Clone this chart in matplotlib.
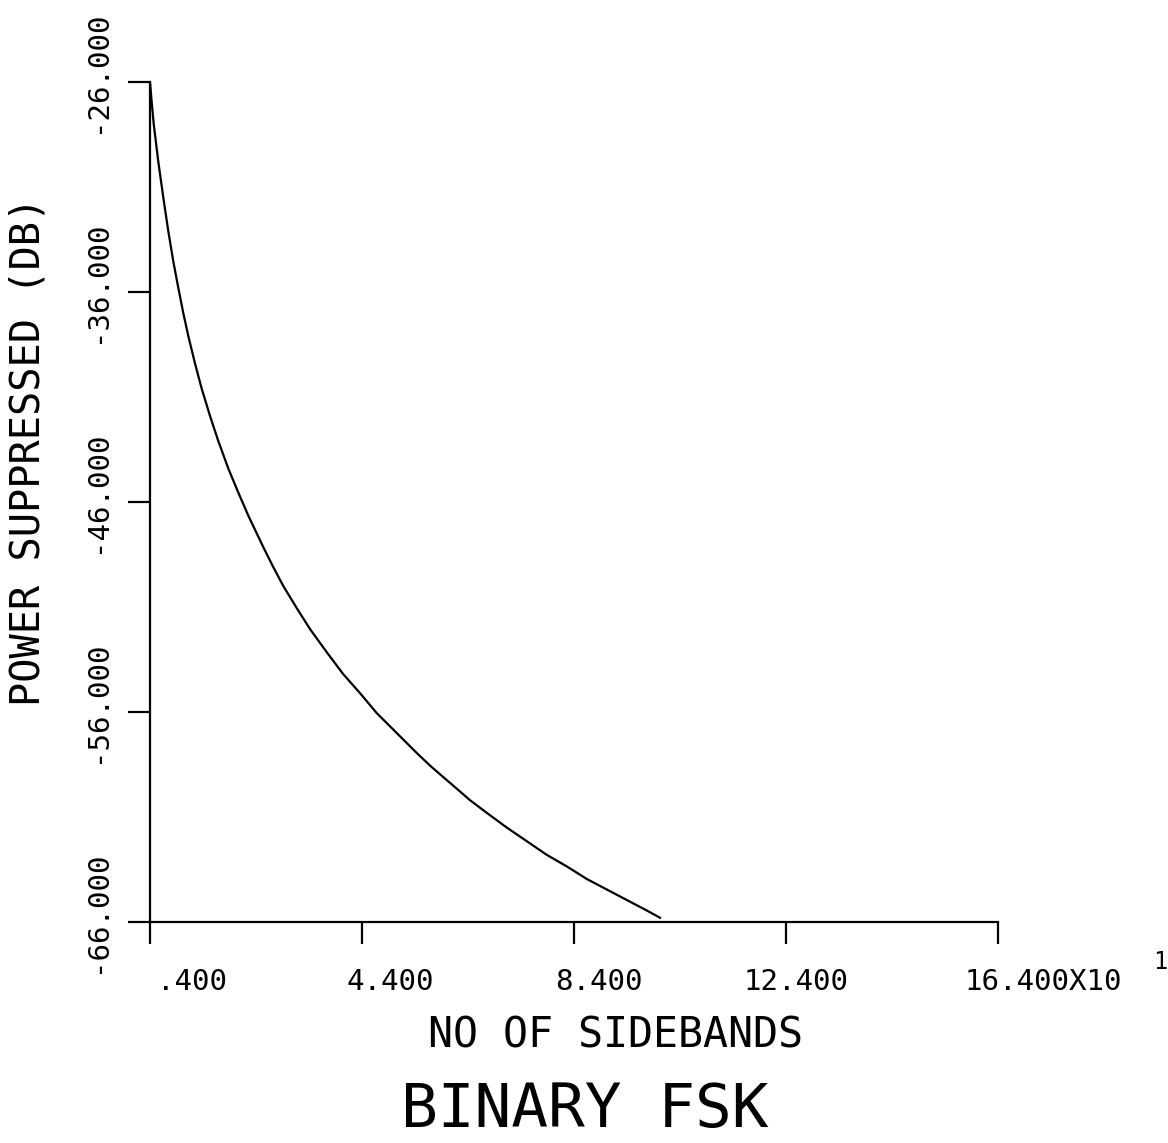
import matplotlib
matplotlib.use('Agg')
import matplotlib.pyplot as plt

# Values (x in units of 10 sidebands)
sidebands = [0.400, 0.430, 0.470, 0.557, 0.651, 0.745, 0.840, 0.934, 1.028, 1.123,
             1.249, 1.375, 1.532, 1.689, 1.877, 2.066, 2.255, 2.538, 2.726, 2.915,
             3.168, 3.419, 3.734, 4.047, 4.362, 4.677, 5.055, 5.432, 5.683, 5.934,
             6.187, 6.438, 6.753, 7.130, 7.508, 7.885, 8.262, 8.640, 9.017, 9.394,
             9.772, 10.023]
power_db = [-26.00, -26.90, -28.00, -29.80, -31.50, -33.10, -34.55, -35.80, -37.00, -38.10,
            -39.40, -40.60, -41.90, -43.10, -44.40, -45.55, -46.65, -48.15, -49.10, -50.00,
            -51.05, -52.05, -53.15, -54.20, -55.10, -56.05, -57.00, -57.95, -58.55, -59.10,
            -59.65, -60.20, -60.80, -61.50, -62.15, -62.80, -63.35, -63.95, -64.45, -64.95,
            -65.45, -65.80]

x_ticks = [0.4, 4.4, 8.4, 12.4, 16.4]
x_tick_labels = ['.400', '4.400', '8.400', '12.400', '16.400X10']
y_ticks = [-26, -36, -46, -56, -66]
y_tick_labels = ['-26.000', '-36.000', '-46.000', '-56.000', '-66.000']

FONT = 'DejaVu Sans Mono'

fig = plt.figure(figsize=(11.68, 11.43), dpi=100)
ax = fig.add_axes([150 / 1168, 1 - 922 / 1143, 848 / 1168, 840 / 1143])

ax.plot(sidebands, power_db, color='black', linewidth=1.6, solid_joinstyle='round')

ax.set_xlim(0.4, 16.4)
ax.set_ylim(-66, -26)
ax.spines['top'].set_visible(False)
ax.spines['right'].set_visible(False)
for s in ['left', 'bottom']:
    ax.spines[s].set_linewidth(1.6)

ax.set_xticks(x_ticks)
ax.set_yticks(y_ticks)
ax.set_xticklabels([])
ax.set_yticklabels([])
ax.tick_params(direction='out', length=16, width=1.6, color='black')

# x tick labels, offsets in pixels from tick (left edge of text)
x_offsets = [7, -16, -19, -42, -33]
for xv, lab, dx in zip(x_ticks, x_tick_labels, x_offsets):
    ax.annotate(lab, xy=(xv, 0), xycoords=('data', 'axes fraction'),
                xytext=(dx, -60), textcoords='offset pixels',
                ha='left', va='center', fontsize=21, family=FONT)
# exponent of the x scale
ax.annotate('1', xy=(16.4, 0), xycoords=('data', 'axes fraction'),
            xytext=(162, -40), textcoords='offset pixels',
            ha='center', va='center', fontsize=17, family=FONT)

# y tick labels, rotated
for yv, lab in zip(y_ticks, y_tick_labels):
    ax.annotate(lab, xy=(0, yv), xycoords=('axes fraction', 'data'),
                xytext=(-53, 10), textcoords='offset pixels',
                ha='center', va='center', rotation=90, fontsize=21, family=FONT)

fig.text(616 / 1168, 1 - 1036 / 1143, 'NO OF SIDEBANDS', ha='center', va='center',
         fontsize=30, family=FONT)
fig.text(585 / 1168, 1 - 1111 / 1143, 'BINARY FSK', ha='center', va='center',
         fontsize=44, family=FONT)
fig.text(29 / 1168, 1 - 451 / 1143, 'POWER SUPPRESSED (DB)', ha='center', va='center',
         rotation=90, fontsize=29, family=FONT)

fig.savefig('out.png', dpi=100, facecolor='white')
